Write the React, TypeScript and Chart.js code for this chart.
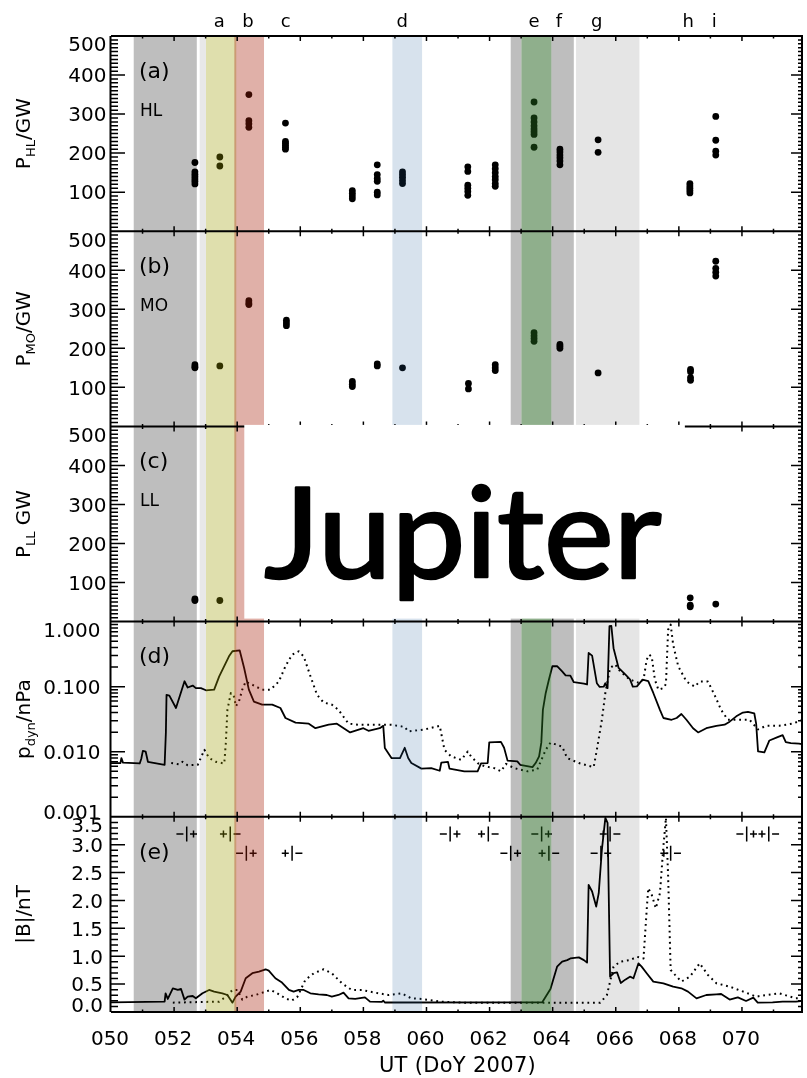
import { useEffect, useRef } from 'react';
import { Chart, registerables } from 'chart.js';

Chart.register(...registerables);

const W = 807;
const H = 1078;
const X_MIN = 50;
const X_MAX = 71.935;
const FONT = '"DejaVu Sans", sans-serif';
const CAPTION_FONT = '127px Lato, "Open Sans", sans-serif';
const INK = '#000';

// ---------- data (day of year 2007) ----------

// auroral power clusters: one day per cluster, several values per cluster (GW)
const HL_DAYS = [52.66, 53.45, 54.37, 55.53, 57.65, 58.44, 59.24, 61.31, 62.18, 63.41, 64.23, 65.44, 68.35, 69.17];
const HL_VALUES = [
  [176, 152, 146, 140, 134, 128, 121],
  [190, 167],
  [350, 283, 275, 266],
  [277, 230, 225, 220, 215, 210],
  [104, 97, 90, 83],
  [170, 145, 135, 128, 100, 93],
  [152, 145, 138, 130, 122],
  [165, 153, 118, 110, 102, 92],
  [170, 160, 150, 140, 132, 122, 115],
  [331, 290, 280, 270, 262, 255, 248, 215],
  [210, 203, 195, 188, 180, 170],
  [234, 202],
  [122, 116, 110, 104, 98],
  [294, 233, 205, 195],
];

const MO_DAYS = [52.66, 53.45, 54.37, 55.56, 57.65, 58.44, 59.24, 61.33, 62.18, 63.41, 64.23, 65.44, 68.37, 69.17];
const MO_VALUES = [
  [158, 153, 150],
  [155],
  [322, 316, 312],
  [272, 265, 258],
  [115, 108, 102],
  [160, 155],
  [150],
  [110, 96],
  [158, 150, 143],
  [240, 232, 225, 218],
  [210, 205, 200],
  [137],
  [146, 140, 125, 118],
  [423, 405, 395, 385],
];

const LL_DAYS = [52.66, 53.45, 68.36, 69.17];
const LL_VALUES = [[58, 54], [54], [61, 42, 38], [45]];

// solar wind dynamic pressure (nPa): [day, value]
const PDYN_OBSERVED: [number, number][] = [
  [50.0, 0.0067], [50.3, 0.0067], [50.33, 0.008], [50.38, 0.0068], [50.91, 0.0066], [50.96, 0.0078],
  [51.01, 0.0103], [51.1, 0.01], [51.17, 0.007], [51.7, 0.0063], [51.74, 0.02], [51.76, 0.075],
  [51.85, 0.073], [52.06, 0.047], [52.33, 0.121], [52.43, 0.097], [52.59, 0.104], [52.69, 0.095],
  [52.85, 0.095], [53.01, 0.088], [53.27, 0.09], [53.43, 0.144], [53.74, 0.293], [53.85, 0.35],
  [54.08, 0.36], [54.22, 0.194], [54.37, 0.09], [54.53, 0.059], [54.79, 0.053], [55.11, 0.053],
  [55.37, 0.047], [55.53, 0.033], [55.85, 0.028], [56.27, 0.027], [56.48, 0.023], [56.9, 0.026],
  [57.16, 0.027], [57.58, 0.0198], [58.0, 0.023], [58.16, 0.021], [58.52, 0.023], [58.63, 0.025],
  [58.68, 0.0114], [58.89, 0.008], [59.16, 0.008], [59.31, 0.0115], [59.42, 0.008], [59.52, 0.0067],
  [59.84, 0.0055], [60.15, 0.0056], [60.42, 0.0051], [60.47, 0.0068], [60.68, 0.007], [60.73, 0.0055],
  [61.2, 0.005], [61.62, 0.005], [61.73, 0.0066], [61.94, 0.0067], [61.99, 0.0139], [62.36, 0.0142],
  [62.46, 0.0115], [62.57, 0.0073], [62.88, 0.0071], [62.97, 0.0063], [63.36, 0.0058], [63.46, 0.0067],
  [63.57, 0.0085], [63.64, 0.0138], [63.69, 0.044], [63.78, 0.08], [63.88, 0.128], [63.99, 0.206],
  [64.14, 0.207], [64.3, 0.172], [64.41, 0.149], [64.56, 0.148], [64.67, 0.117], [64.99, 0.111],
  [65.09, 0.108], [65.14, 0.33], [65.25, 0.3], [65.4, 0.113], [65.49, 0.099], [65.62, 0.1],
  [65.67, 0.113], [65.74, 0.095], [65.8, 0.85], [65.86, 0.86], [65.93, 0.39], [66.09, 0.194],
  [66.3, 0.155], [66.45, 0.13], [66.54, 0.1], [66.67, 0.101], [66.85, 0.128], [67.03, 0.122],
  [67.19, 0.08], [67.4, 0.044], [67.51, 0.033], [67.77, 0.031], [67.93, 0.033], [68.08, 0.038],
  [68.24, 0.031], [68.45, 0.023], [68.61, 0.0198], [68.87, 0.023], [69.19, 0.025], [69.45, 0.026],
  [69.61, 0.029], [69.82, 0.035], [70.03, 0.04], [70.19, 0.041], [70.39, 0.039], [70.45, 0.027],
  [70.51, 0.0101], [70.71, 0.0098], [70.87, 0.0149], [71.13, 0.0168], [71.29, 0.018], [71.39, 0.014],
  [71.55, 0.0136], [71.81, 0.0133], [71.93, 0.013],
];

const PDYN_MODEL: [number, number][] = [
  [51.91, 0.0067], [52.17, 0.0064], [52.27, 0.007], [52.43, 0.0062], [52.75, 0.0063], [52.96, 0.0107],
  [53.11, 0.008], [53.32, 0.007], [53.59, 0.0066], [53.64, 0.0136], [53.69, 0.044], [53.8, 0.08],
  [53.9, 0.07], [53.96, 0.05], [54.06, 0.06], [54.16, 0.09], [54.27, 0.12], [54.48, 0.107],
  [54.79, 0.09], [55.06, 0.09], [55.32, 0.12], [55.53, 0.206], [55.74, 0.31], [55.95, 0.35],
  [56.11, 0.29], [56.32, 0.146], [56.53, 0.075], [56.74, 0.057], [57.0, 0.053], [57.21, 0.044],
  [57.53, 0.027], [57.84, 0.026], [58.37, 0.026], [58.89, 0.026], [59.31, 0.024], [59.42, 0.0205],
  [59.94, 0.022], [60.42, 0.025], [60.57, 0.0107], [60.78, 0.0085], [61.1, 0.0075], [61.31, 0.0101],
  [61.41, 0.0085], [61.62, 0.0067], [61.83, 0.006], [62.15, 0.0056], [62.36, 0.005], [62.52, 0.0065],
  [62.78, 0.0056], [63.2, 0.005], [63.51, 0.0053], [63.78, 0.0107], [63.93, 0.0138], [64.3, 0.012],
  [64.46, 0.008], [64.83, 0.0067], [65.3, 0.0058], [65.4, 0.0107], [65.56, 0.031], [65.67, 0.08],
  [65.82, 0.194], [65.98, 0.22], [66.14, 0.172], [66.45, 0.128], [66.72, 0.115], [66.88, 0.128],
  [66.98, 0.26], [67.06, 0.31], [67.14, 0.29], [67.24, 0.128], [67.35, 0.09], [67.51, 0.095],
  [67.59, 0.11], [67.66, 0.75], [67.74, 0.9], [67.82, 0.44], [67.98, 0.206], [68.24, 0.12],
  [68.5, 0.1], [68.66, 0.12], [68.92, 0.12], [69.13, 0.075], [69.34, 0.044], [69.55, 0.031],
  [70.03, 0.031], [70.24, 0.031], [70.51, 0.022], [70.76, 0.025], [71.18, 0.025], [71.6, 0.027],
  [71.93, 0.031],
];

// interplanetary magnetic field magnitude (nT): [day, value]
const B_OBSERVED: [number, number][] = [
  [50.0, 0.174], [51.7, 0.186], [51.73, 0.335], [51.8, 0.234], [51.96, 0.425], [52.12, 0.395],
  [52.22, 0.413], [52.33, 0.222], [52.43, 0.275], [52.59, 0.287], [52.69, 0.245], [52.9, 0.335],
  [53.11, 0.395], [53.27, 0.365], [53.53, 0.335], [53.69, 0.305], [53.85, 0.168], [53.95, 0.275],
  [54.11, 0.365], [54.27, 0.605], [54.48, 0.695], [54.69, 0.725], [54.9, 0.766], [55.0, 0.742],
  [55.21, 0.605], [55.42, 0.527], [55.64, 0.395], [55.79, 0.365], [55.95, 0.395], [56.11, 0.395],
  [56.32, 0.335], [56.58, 0.317], [56.84, 0.305], [57.0, 0.275], [57.21, 0.305], [57.37, 0.347],
  [57.53, 0.245], [57.74, 0.234], [58.05, 0.263], [58.21, 0.186], [58.58, 0.18], [58.63, 0.204],
  [58.68, 0.17], [63.67, 0.174], [63.93, 0.413], [64.14, 0.813], [64.3, 0.903], [64.46, 0.93],
  [64.56, 0.96], [64.83, 0.98], [64.99, 0.93], [65.09, 0.885], [65.14, 2.28], [65.25, 2.16],
  [65.38, 1.89], [65.46, 2.13], [65.56, 2.91], [65.67, 3.48], [65.74, 3.39], [65.82, 0.634],
  [65.93, 0.695], [66.04, 0.71], [66.16, 0.52], [66.3, 0.58], [66.45, 0.634], [66.56, 0.605],
  [66.72, 0.873], [66.82, 0.813], [66.98, 0.695], [67.19, 0.545], [67.51, 0.515], [67.82, 0.455],
  [68.08, 0.425], [68.29, 0.365], [68.56, 0.245], [68.87, 0.305], [69.19, 0.317], [69.34, 0.323],
  [69.61, 0.222], [69.87, 0.263], [70.13, 0.198], [70.36, 0.257], [70.5, 0.168], [70.97, 0.174],
  [71.29, 0.186], [71.71, 0.186], [71.93, 0.198],
];

const B_MODEL: [number, number][] = [
  [51.96, 0.168], [53.43, 0.186], [53.64, 0.275], [53.85, 0.395], [54.01, 0.395], [54.16, 0.222],
  [54.32, 0.275], [54.58, 0.305], [54.9, 0.365], [55.06, 0.395], [55.27, 0.335], [55.53, 0.245],
  [55.72, 0.204], [55.9, 0.263], [56.16, 0.575], [56.43, 0.695], [56.74, 0.766], [57.0, 0.695],
  [57.32, 0.515], [57.63, 0.395], [57.95, 0.395], [58.37, 0.347], [58.79, 0.305], [59.21, 0.335],
  [59.52, 0.245], [59.84, 0.234], [60.47, 0.186], [61.2, 0.168], [65.51, 0.168], [65.72, 0.305],
  [65.93, 0.813], [66.14, 0.903], [66.45, 0.93], [66.67, 0.99], [66.88, 0.96], [66.98, 1.83],
  [67.03, 2.22], [67.14, 2.1], [67.27, 1.86], [67.4, 2.13], [67.51, 2.97], [67.59, 3.48],
  [67.66, 2.43], [67.74, 0.754], [67.88, 0.665], [68.08, 0.545], [68.35, 0.634], [68.66, 0.873],
  [68.92, 0.665], [69.19, 0.515], [69.61, 0.455], [70.13, 0.347], [70.45, 0.275], [70.76, 0.305],
  [71.18, 0.335], [71.71, 0.245], [71.93, 0.25],
];

// IMF sector crossings: day, polarity change, row
const SECTOR_DAYS = [52.4, 53.78, 54.29, 55.74, 60.75, 61.96, 62.67, 63.65, 63.88, 65.53, 65.82, 67.74, 70.15, 70.85];
const SECTOR_SIGNS = ['-+', '+-', '-+', '+-', '-+', '+-', '-+', '-+', '+-', '-+', '+-', '+-', '-+', '+-'];
const SECTOR_ROWS = [0, 0, 1, 1, 0, 0, 1, 0, 1, 1, 0, 1, 0, 0];

// highlighted intervals
const INTERVALS: [number, number][] = [
  [50.72, 52.72], [52.81, 53.01], [53.01, 53.97], [53.91, 54.85], [58.92, 59.86],
  [62.67, 63.01], [63.01, 63.96], [63.96, 64.67], [64.74, 66.75],
];
const INTERVAL_FILLS = [
  'rgba(0,0,0,0.255)', 'rgba(0,0,0,0.09)', 'rgba(155,155,0,0.32)', 'rgba(166,29,6,0.35)',
  'rgba(35,95,155,0.18)', 'rgba(0,0,0,0.255)', 'rgba(31,95,25,0.5)', 'rgba(0,0,0,0.255)', 'rgba(0,0,0,0.1)',
];

const EVENT_LABELS = ['a', 'b', 'c', 'd', 'e', 'f', 'g', 'h', 'i'];
const EVENT_DAYS = [53.43, 54.34, 55.54, 59.23, 63.41, 64.2, 65.4, 68.3, 69.12];

const JUPITER_BOX_DAYS = [54.225, 68.19];

// axes
const PANEL_IDS = ['yA', 'yB', 'yC', 'yD', 'yE'];
const PANEL_TAGS = ['(a)', '(b)', '(c)', '(d)', '(e)'];
const REGION_NAMES = ['HL', 'MO', 'LL', '', ''];
const POWER_TICKS = [100, 200, 300, 400, 500];
const PDYN_TICKS = [0.001, 0.01, 0.1, 1];
const PDYN_TICK_LABELS = ['0.001', '0.010', '0.100', '1.000'];
const B_TICKS = [0, 0.5, 1, 1.5, 2, 2.5, 3, 3.5];
const B_TICK_LABELS = ['0.0', '0.5', '1.0', '1.5', '2.0', '2.5', '3.0', '3.5'];
const X_TICK_DAYS = [50, 52, 54, 56, 58, 60, 62, 64, 66, 68, 70];
const X_TICK_LABELS = ['050', '052', '054', '056', '058', '060', '062', '064', '066', '068', '070'];
const Y_TITLES: [string, string, string][] = [
  ['P', 'HL', '/GW'],
  ['P', 'MO', '/GW'],
  ['P', 'LL', ' GW'],
  ['p', 'dyn', '/nPa'],
  ['|B|/nT', '', ''],
];

// ---------- helpers ----------

function clusterPoints(days: number[], values: number[][]) {
  const pts: { x: number; y: number }[] = [];
  days.forEach((d, i) => values[i].forEach((v) => pts.push({ x: d, y: v })));
  return pts;
}

function pairPoints(rows: [number, number][]) {
  return rows.map(([x, y]) => ({ x, y }));
}

function dots(data: { x: number; y: number }[], yAxisID: string) {
  return {
    data,
    yAxisID,
    xAxisID: 'x',
    showLine: false,
    pointRadius: 3.4,
    pointBackgroundColor: INK,
    pointBorderWidth: 0,
    pointBorderColor: INK,
  };
}

function trace(rows: [number, number][], yAxisID: string, dashed: boolean) {
  return {
    data: pairPoints(rows),
    yAxisID,
    xAxisID: 'x',
    showLine: true,
    pointRadius: 0,
    borderColor: INK,
    borderWidth: dashed ? 2 : 1.8,
    borderDash: dashed ? [1.8, 3.8] : [],
    borderJoinStyle: 'round',
    tension: 0,
    fill: false,
  };
}

function drawRotatedTitle(ctx: CanvasRenderingContext2D, parts: [string, string, string], baseX: number, cy: number) {
  const main = `20px ${FONT}`;
  const sub = `13px ${FONT}`;
  ctx.save();
  ctx.font = main;
  const w0 = ctx.measureText(parts[0]).width;
  const w2 = ctx.measureText(parts[2]).width;
  ctx.font = sub;
  const w1 = ctx.measureText(parts[1]).width;
  const total = w0 + w1 + w2;
  ctx.translate(baseX, cy);
  ctx.rotate(-Math.PI / 2);
  ctx.textAlign = 'left';
  ctx.textBaseline = 'alphabetic';
  let x = -total / 2;
  ctx.font = main;
  ctx.fillText(parts[0], x, 0);
  x += w0;
  ctx.font = sub;
  ctx.fillText(parts[1], x, 4.5);
  x += w1;
  ctx.font = main;
  ctx.fillText(parts[2], x, 0);
  ctx.restore();
}

// ---------- frame, annotations, overlays ----------

const panelFrame = {
  id: 'panelFrame',
  afterDatasetsDraw(chart: any) {
    const { ctx, chartArea: area, scales } = chart;
    const xs = scales.x;
    const panels = PANEL_IDS.map((id) => scales[id]);
    const px = (d: number) => xs.getPixelForValue(d);
    const L = area.left;
    const R = area.right;

    ctx.save();
    ctx.fillStyle = INK;
    ctx.strokeStyle = INK;

    // panel tags and region names
    ctx.textAlign = 'left';
    ctx.textBaseline = 'middle';
    panels.forEach((p: any, i: number) => {
      ctx.font = `22px ${FONT}`;
      ctx.fillText(PANEL_TAGS[i], L + 28, p.top + 36);
      if (REGION_NAMES[i]) {
        ctx.font = `17px ${FONT}`;
        ctx.fillText(REGION_NAMES[i], L + 29, p.top + 75.5);
      }
    });

    // sector crossing markers
    const pe = panels[4];
    ctx.lineWidth = 1.5;
    ctx.beginPath();
    SECTOR_DAYS.forEach((day, i) => {
      const cx = px(day);
      const cy = pe.top + (SECTOR_ROWS[i] ? 36.5 : 17.2);
      ctx.moveTo(cx, cy - 7.5);
      ctx.lineTo(cx, cy + 7.5);
      const signs = SECTOR_SIGNS[i];
      [
        [signs[0], cx - 6.8],
        [signs[1], cx + 6.8],
      ].forEach(([s, c]: any) => {
        ctx.moveTo(c - 3.5, cy);
        ctx.lineTo(c + 3.5, cy);
        if (s === '+') {
          ctx.moveTo(c, cy - 3.5);
          ctx.lineTo(c, cy + 3.5);
        }
      });
    });
    ctx.stroke();

    // highlighted intervals, laid over the data
    INTERVALS.forEach(([s, e], i) => {
      ctx.fillStyle = INTERVAL_FILLS[i];
      ctx.fillRect(px(s), area.top + 1, px(e) - px(s), area.bottom - area.top - 1);
    });
    ctx.fillStyle = INK;

    // panel boxes
    ctx.lineWidth = 2;
    ctx.beginPath();
    const bounds = [panels[0].top, ...panels.map((p: any) => p.bottom)];
    bounds.forEach((y: number) => {
      ctx.moveTo(L, y);
      ctx.lineTo(R, y);
    });
    ctx.moveTo(L - 0.5, area.top);
    ctx.lineTo(L - 0.5, area.bottom);
    ctx.moveTo(R - 1, area.top);
    ctx.lineTo(R - 1, area.bottom);
    ctx.stroke();

    // time ticks on every panel edge
    ctx.lineWidth = 1.5;
    ctx.beginPath();
    for (let d = Math.ceil(X_MIN) + 1; d < X_MAX; d++) {
      const x = px(d);
      const len = d % 2 === 0 ? 5 : 2.5;
      panels.forEach((p: any) => {
        ctx.moveTo(x, p.top);
        ctx.lineTo(x, p.top + len);
        ctx.moveTo(x, p.bottom);
        ctx.lineTo(x, p.bottom - len);
      });
    }
    // value ticks on left and right edges
    const yTick = (y: number, major: boolean) => {
      ctx.moveTo(L, y);
      ctx.lineTo(L + (major ? 14 : 7), y);
      ctx.moveTo(R, y);
      ctx.lineTo(R - (major ? 12 : 5), y);
    };
    panels.slice(0, 3).forEach((p: any) => {
      for (let v = 10; v < 500; v += 10) yTick(p.getPixelForValue(v), v % 100 === 0);
    });
    for (let e = -3; e < 0; e++) {
      for (let k = 1; k <= 9; k++) {
        if (k === 1 && e === -3) continue;
        yTick(panels[3].getPixelForValue(k * Math.pow(10, e)), k === 1);
      }
    }
    for (let i = 1; i < 35; i++) yTick(panels[4].getPixelForValue(i / 10), i % 5 === 0);
    ctx.stroke();

    // caption box in panel (c)
    const pc = panels[2];
    const bx0 = px(JUPITER_BOX_DAYS[0]);
    const bx1 = px(JUPITER_BOX_DAYS[1]);
    ctx.fillStyle = '#fff';
    ctx.fillRect(bx0, pc.top - 1.5, bx1 - bx0, pc.bottom - pc.top - 1.5);
    ctx.fillStyle = INK;
    ctx.font = CAPTION_FONT;
    ctx.textAlign = 'left';
    ctx.textBaseline = 'alphabetic';
    const m = ctx.measureText('Jupiter');
    const ink = m.actualBoundingBoxLeft + m.actualBoundingBoxRight;
    const sx = ink > 100 ? 396 / ink : 1;
    ctx.save();
    ctx.translate(bx0 + 21 + m.actualBoundingBoxLeft * sx, pc.top + 151.6);
    ctx.scale(sx, 1);
    ctx.lineJoin = 'round';
    ctx.lineWidth = 2.6;
    ctx.strokeStyle = INK;
    ctx.fillText('Jupiter', 0, 0);
    ctx.strokeText('Jupiter', 0, 0);
    ctx.restore();

    // tick labels
    ctx.font = `20px ${FONT}`;
    ctx.textAlign = 'right';
    ctx.textBaseline = 'alphabetic';
    const half = 7.3;
    panels.slice(0, 3).forEach((p: any) => {
      POWER_TICKS.forEach((v) => {
        const off = v === 500 ? 8 : 0;
        ctx.fillText(String(v), L - 4.5, p.getPixelForValue(v) + off + half);
      });
    });
    PDYN_TICKS.forEach((v, i) => {
      const off = i === 0 ? -5 : i === PDYN_TICKS.length - 1 ? 8 : 0;
      ctx.fillText(PDYN_TICK_LABELS[i], L - 10.5, panels[3].getPixelForValue(v) + off + half);
    });
    B_TICKS.forEach((v, i) => {
      const off = i === 0 ? -7 : i === B_TICKS.length - 1 ? 8 : 0;
      ctx.fillText(B_TICK_LABELS[i], L - 8, panels[4].getPixelForValue(v) + off + half);
    });
    ctx.textAlign = 'center';
    X_TICK_DAYS.forEach((d, i) => {
      ctx.fillText(X_TICK_LABELS[i], px(d) - 1, area.bottom + 33);
    });

    // time axis title
    ctx.font = `21px ${FONT}`;
    (ctx as any).letterSpacing = '0.3px';
    ctx.fillText('UT (DoY 2007)', (L + R) / 2 + 0.5, area.bottom + 60);
    (ctx as any).letterSpacing = '0px';

    // event letters along the top
    ctx.font = `18px ${FONT}`;
    EVENT_DAYS.forEach((d, i) => ctx.fillText(EVENT_LABELS[i], px(d), area.top - 9));

    // panel titles
    panels.forEach((p: any, i: number) => {
      drawRotatedTitle(ctx, Y_TITLES[i], 30, (p.top + p.bottom) / 2);
    });

    ctx.restore();
  },
};

// ---------- chart ----------

const stackedAxis = (weight: number, extra: any) => ({
  display: false,
  position: 'left',
  stack: 'panels',
  stackWeight: 1,
  weight,
  ...extra,
});

export default function App() {
  const ref = useRef<HTMLCanvasElement>(null);

  useEffect(() => {
    const canvas = ref.current;
    if (!canvas) return;
    const chart = new Chart(canvas, {
      type: 'scatter',
      data: {
        datasets: [
          dots(clusterPoints(HL_DAYS, HL_VALUES), 'yA'),
          dots(clusterPoints(MO_DAYS, MO_VALUES), 'yB'),
          dots(clusterPoints(LL_DAYS, LL_VALUES), 'yC'),
          trace(PDYN_OBSERVED, 'yD', false),
          trace(PDYN_MODEL, 'yD', true),
          trace(B_OBSERVED, 'yE', false),
          trace(B_MODEL, 'yE', true),
        ] as any,
      },
      options: {
        responsive: false,
        animation: false,
        devicePixelRatio: 1,
        events: [],
        layout: { padding: { left: 111, right: 0, top: 36, bottom: H - 1012 } },
        plugins: { legend: { display: false }, tooltip: { enabled: false } },
        scales: {
          x: { type: 'linear', min: X_MIN, max: X_MAX, display: false },
          yA: stackedAxis(5, { type: 'linear', min: 0, max: 500 }),
          yB: stackedAxis(4, { type: 'linear', min: 0, max: 500 }),
          yC: stackedAxis(3, { type: 'linear', min: 0, max: 500 }),
          yD: stackedAxis(2, { type: 'logarithmic', min: 0.001, max: 1 }),
          yE: stackedAxis(1, { type: 'linear', min: 0, max: 3.5 }),
        },
      } as any,
      plugins: [panelFrame],
    });
    return () => chart.destroy();
  }, []);

  return (
    <div style={{ position: 'absolute', left: 0, top: 0, width: W, height: H, background: '#fff' }}>
      <canvas ref={ref} width={W} height={H} style={{ display: 'block', width: W, height: H }} />
    </div>
  );
}
